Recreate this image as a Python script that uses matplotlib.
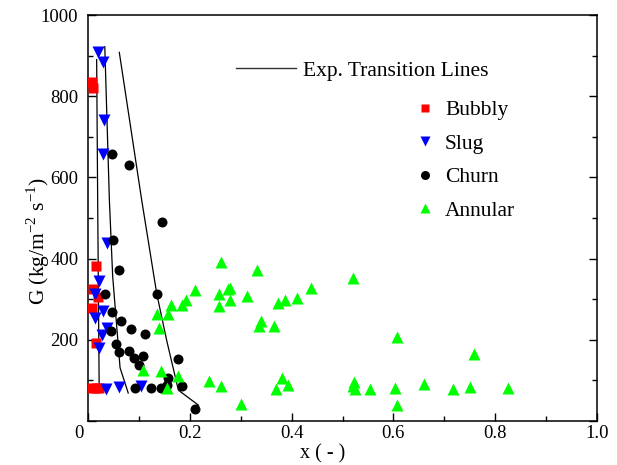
"""Flow regime map: G vs quality x, with experimental transition lines."""

import matplotlib
matplotlib.use("Agg")
import matplotlib.pyplot as plt
from matplotlib.lines import Line2D
from matplotlib.ticker import MultipleLocator

plt.rcParams["font.family"] = ["Liberation Serif", "DejaVu Serif"]
plt.rcParams["mathtext.fontset"] = "custom"
plt.rcParams["mathtext.rm"] = "Liberation Serif"

# ── data (x [-], G [kg/m2 s]) ─────────────────────────────
bubbly_x = [0.008, 0.010, 0.015, 0.0104, 0.019, 0.007, 0.0157, 0.008, 0.015, 0.022]
bubbly_g = [834, 819, 381, 324, 305, 279, 191, 82, 82, 82]

slug_x = [0.019, 0.030, 0.032, 0.030, 0.0367, 0.022, 0.014, 0.030, 0.014, 0.0367,
          0.027, 0.022, 0.0354, 0.061, 0.1035]
slug_g = [909, 884, 741, 657, 439, 345, 314, 271, 253, 229, 212, 180, 78, 83, 86]

churn_x = [0.048, 0.081, 0.145, 0.0485, 0.0615, 0.0334, 0.135, 0.048, 0.065, 0.0845,
           0.045, 0.112, 0.055, 0.061, 0.0806, 0.091, 0.1075, 0.101, 0.1775, 0.1565,
           0.1545, 0.0923, 0.124, 0.143, 0.184, 0.2096]
churn_g = [657, 630, 490, 445, 373, 314, 314, 268, 247, 226,
           222, 214, 189, 169, 172, 155, 159, 138, 153, 105,
           89, 81, 81, 81, 86, 29]

annular_x = [0.2607, 0.210, 0.2574, 0.2757, 0.192, 0.163, 0.184, 0.2574, 0.136, 0.158,
             0.140, 0.1087, 0.1434, 0.176, 0.238, 0.2607, 0.1545, 0.3326, 0.279, 0.279,
             0.313, 0.374, 0.388, 0.410, 0.4375, 0.521, 0.340, 0.3366, 0.3654, 0.6065,
             0.300, 0.3805, 0.3687, 0.3935, 0.5226, 0.520, 0.525, 0.554, 0.603, 0.6065,
             0.758, 0.661, 0.7165, 0.7505, 0.826]
annular_g = [392, 322, 312, 324, 299, 286, 286, 283, 263, 263,
             229, 125, 124, 110, 99, 86, 82, 373, 327, 299,
             307, 290, 299, 304, 327, 352, 247, 233, 233, 208,
             41, 105, 78, 89, 95, 85, 78, 78, 82, 39,
             166, 91, 79, 83, 82]

line1_x = [0.017, 0.019, 0.022]
line1_g = [890, 544, 72]
line2_x = [0.033, 0.042, 0.0485, 0.063, 0.079]
line2_g = [922, 544, 356, 131, 69]
line3_x = [0.0615, 0.1055, 0.135, 0.1545, 0.1775, 0.217]
line3_g = [908, 544, 314, 199, 76, 39]

x_ticks = [0, 0.2, 0.4, 0.6, 0.8, 1.0]
x_labels = ["", "0.2", "0.4", "0.6", "0.8", "1.0"]
y_ticks = [0, 200, 400, 600, 800, 1000]
y_labels = ["", "200", "400", "600", "800", "1000"]

fig = plt.figure(figsize=(6.17, 4.65), dpi=100)
ax = fig.add_axes([88 / 617, 1 - 421 / 465, 509 / 617, 406 / 465])

for lx, lg in [(line1_x, line1_g), (line2_x, line2_g), (line3_x, line3_g)]:
    ax.plot(lx, lg, color="black", linewidth=0.9, zorder=2)

ms = 7.2
ax.plot(bubbly_x, bubbly_g, "s", color="#ff0000", markersize=6.5, mec="none", zorder=3)
ax.plot(slug_x, slug_g, "v", color="#0000ff", markersize=ms + 0.8, mec="none", zorder=3)
ax.plot(churn_x, churn_g, "o", color="black", markersize=ms, mec="none", zorder=3)
ax.plot(annular_x, annular_g, "^", color="#00ff00", markersize=ms + 0.8, mec="none", zorder=3)

ax.set_xlim(0, 1.0)
ax.set_ylim(0, 1000)
ax.set_xticks(x_ticks)
ax.set_xticklabels(x_labels)
ax.set_yticks(y_ticks)
ax.set_yticklabels(y_labels)
ax.xaxis.set_minor_locator(MultipleLocator(0.1))
ax.yaxis.set_minor_locator(MultipleLocator(100))
ax.tick_params(which="both", direction="in", top=False, right=True,
               labelsize=13.5, width=1.0)
ax.tick_params(which="major", length=6)
ax.tick_params(which="minor", length=3.5)
ax.tick_params(axis="x", which="major", pad=3)
ax.tick_params(axis="y", which="major", pad=7)
for sp in ax.spines.values():
    sp.set_linewidth(1.1)

fig.text(79 / 617, 1 - 433 / 465, "0", fontsize=13.5, ha="center", va="center")

ax.set_xlabel("x ( - )", fontsize=14.5)
ax.xaxis.set_label_coords(0.46, -0.058)
ax.set_ylabel(r"G (kg/m$^{\mathregular{-2}}$ s$^{\mathregular{-1}}$)", fontsize=15.5)
ax.yaxis.set_label_coords(-0.071, 0.443)

# ── legends ──────────────────────────────────────────────
line_handle = [Line2D([], [], color="#333333", linewidth=1.0)]
leg1 = fig.legend(line_handle, ["Exp. Transition Lines"], loc="center left",
                  bbox_to_anchor=(236 / 617, 1 - 71 / 465), frameon=False,
                  fontsize=15.5, handlelength=2.8, handletextpad=0.33,
                  borderpad=0, borderaxespad=0)

marker_handles = [
    Line2D([], [], linestyle="none", marker="s", color="#ff0000", markersize=6, mec="none"),
    Line2D([], [], linestyle="none", marker="v", color="#0000ff", markersize=7, mec="none"),
    Line2D([], [], linestyle="none", marker="o", color="black", markersize=6.5, mec="none"),
    Line2D([], [], linestyle="none", marker="^", color="#00ff00", markersize=7, mec="none"),
]
leg2 = fig.legend(marker_handles, ["Bubbly", "Slug", "Churn", "Annular"],
                  loc="center left", bbox_to_anchor=(416 / 617, 1 - 160.5 / 465),
                  frameon=False, fontsize=15.5, handlelength=0.8, handletextpad=0.55,
                  labelspacing=0.62, borderpad=0, borderaxespad=0)

fig.savefig("out.png", dpi=100, facecolor="white")
